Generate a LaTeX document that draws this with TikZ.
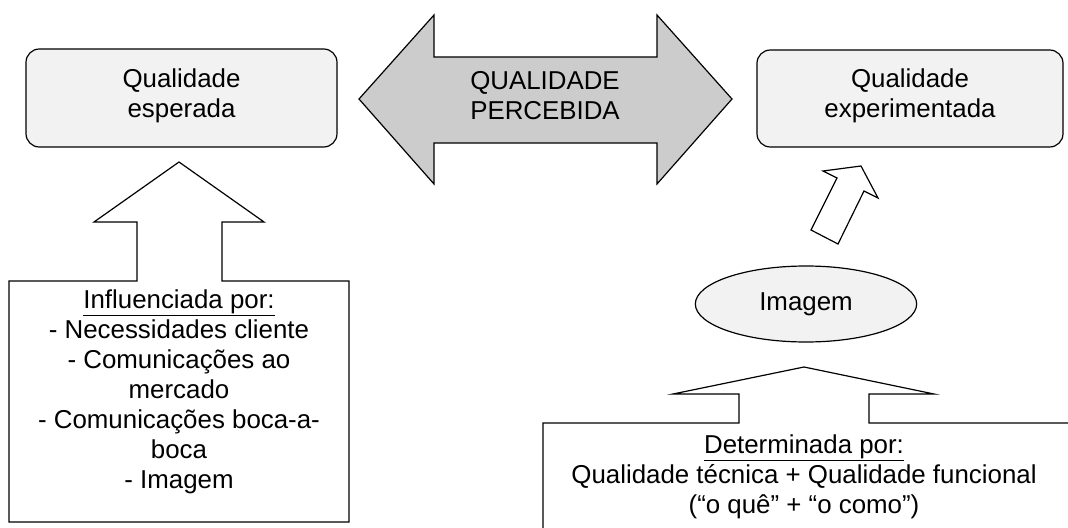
\documentclass[tikz,border=0pt]{standalone}
\usepackage{fontspec}
\setmainfont{Liberation Sans}
\usetikzlibrary{shapes.geometric}
\definecolor{boxfill}{RGB}{242,242,242}
\definecolor{arrowfill}{RGB}{204,204,204}
\begin{document}
\begin{tikzpicture}[x=0.75pt,y=-0.75pt,
  outline/.style={draw=black,line width=0.9pt,line join=miter},
  rbox/.style={outline,fill=boxfill,rounded corners=10pt},
  txt/.style={align=center,font=\fontsize{19.4pt}{22.5pt}\selectfont,inner sep=0pt},
  ]
\useasboundingbox (0,0) rectangle (1068,528);
\clip (0,0) rectangle (1068,528);
% top boxes
\draw[rbox] (26,49) rectangle (337,147);
\node[txt] (esperada) at (181.5,96) {Qualidade\\esperada};
\draw[rbox] (757,50) rectangle (1063,147);
\node[txt] (experimentada) at (910,96) {Qualidade\\experimentada};
% double arrow
\draw[outline,fill=arrowfill] (359,99) -- (434,15) -- (434,57) -- (657,57) -- (657,15)
  -- (732,99) -- (657,184) -- (657,143) -- (434,143) -- (434,184) -- cycle;
\node[txt] (percebida) at (545,96) {QUALIDADE\\PERCEBIDA};
% left box with up arrow
\draw[outline,fill=white] (9,281) -- (137,281) -- (137,222) -- (94,222) -- (179,162)
  -- (264,222) -- (222,222) -- (222,281) -- (349,281) -- (349,522) -- (9,522) -- cycle;
\node[txt,anchor=north] (influenciada) at (179,289) {\underline{Influenciada por:}\\
  - Necessidades cliente\\- Comunicações ao\\mercado\\- Comunicações boca-a-\\boca\\- Imagem};
% diagonal arrow
\draw[outline,fill=white] (811,230) -- (837,178) -- (823,171) -- (861,166) -- (878,198)
  -- (864,191) -- (838,244) -- cycle;
% ellipse
\node[ellipse,outline,fill=boxfill,minimum width=221\pgflinewidth,inner sep=0pt,
  minimum width=166pt,minimum height=57pt,txt,draw,line width=0.9pt] (imagem) at (806,304) {Imagem};
% bottom right box with up arrow
\draw[outline,fill=white] (543,423) -- (739,423) -- (739,394) -- (673,394) -- (804,367)
  -- (934,394) -- (869,394) -- (869,423) -- (1090,423) -- (1090,550) -- (543,550) -- cycle;
\node[txt,anchor=north] (determinada) at (804,434) {\underline{Determinada por:}\\
  Qualidade técnica + Qualidade funcional\\(“o quê” + “o como”)};
\end{tikzpicture}
\end{document}
